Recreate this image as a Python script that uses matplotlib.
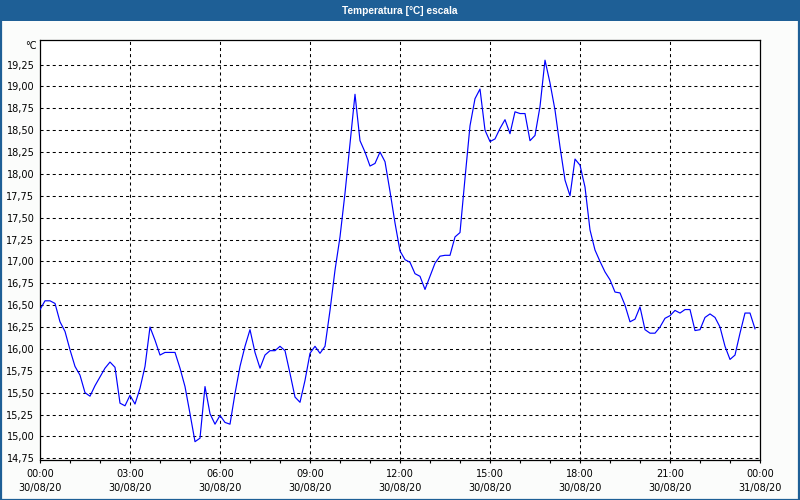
import matplotlib
matplotlib.use("Agg")
import matplotlib.pyplot as plt
from matplotlib.patches import Rectangle
from matplotlib.ticker import MultipleLocator, FixedLocator
import numpy as np

plt.rcParams['font.family'] = ['DejaVu Sans']
plt.rcParams['lines.scale_dashes'] = False

title = "Temperatura [°C] escala"
unit_label = "°C"

# 10-minute samples from 00:00 to 23:50 on 30/08/20
sample_minutes = 10
temperature = [
    16.45, 16.55, 16.55, 16.52, 16.31, 16.20, 15.99, 15.80, 15.70, 15.50,
    15.46, 15.58, 15.68, 15.78, 15.85, 15.79, 15.38, 15.35, 15.47, 15.37,
    15.55, 15.80, 16.25, 16.10, 15.93, 15.96, 15.96, 15.96, 15.78, 15.57,
    15.26, 14.94, 14.98, 15.57, 15.26, 15.14, 15.24, 15.16, 15.14, 15.49,
    15.80, 16.03, 16.22, 15.96, 15.78, 15.93, 15.98, 15.98, 16.03, 15.98,
    15.72, 15.45, 15.39, 15.64, 15.95, 16.03, 15.95, 16.03, 16.44, 16.90,
    17.28, 17.78, 18.35, 18.91, 18.38, 18.25, 18.09, 18.12, 18.25, 18.14,
    17.80, 17.44, 17.12, 17.02, 16.99, 16.86, 16.83, 16.68, 16.83, 16.98,
    17.06, 17.07, 17.07, 17.28, 17.33, 17.95, 18.55, 18.86, 18.97, 18.50,
    18.37, 18.40, 18.52, 18.62, 18.46, 18.71, 18.69, 18.69, 18.38, 18.44,
    18.77, 19.30, 19.04, 18.73, 18.31, 17.93, 17.75, 18.17, 18.10, 17.85,
    17.36, 17.13, 17.00, 16.88, 16.79, 16.65, 16.64, 16.50, 16.31, 16.34,
    16.48, 16.22, 16.18, 16.18, 16.25, 16.35, 16.38, 16.44, 16.41, 16.45,
    16.45, 16.21, 16.22, 16.36, 16.40, 16.36, 16.25, 16.03, 15.88, 15.93,
    16.18, 16.41, 16.41, 16.23,
]

x_tick_hours = [0, 3, 6, 9, 12, 15, 18, 21, 24]
x_tick_labels = [
    "00:00\n30/08/20", "03:00\n30/08/20", "06:00\n30/08/20", "09:00\n30/08/20",
    "12:00\n30/08/20", "15:00\n30/08/20", "18:00\n30/08/20", "21:00\n30/08/20",
    "00:00\n31/08/20",
]
y_ticks = [14.75, 15.00, 15.25, 15.50, 15.75, 16.00, 16.25, 16.50, 16.75,
           17.00, 17.25, 17.50, 17.75, 18.00, 18.25, 18.50, 18.75, 19.00, 19.25]

hours = np.arange(len(temperature)) * sample_minutes / 60.0

W, H = 800, 500
fig = plt.figure(figsize=(8, 5), dpi=100)
fig.patch.set_facecolor('#fbfcfb')

bar_color = '#1e5f96'
# title bar
fig.patches.append(Rectangle((0, 1 - 21 / H), 1, 21 / H, transform=fig.transFigure,
                             facecolor=bar_color, edgecolor='none', zorder=0))
# window border
fig.patches.append(Rectangle((0.5 / W, 0.5 / H), 1 - 1.5 / W, 1 - 1.5 / H,
                             transform=fig.transFigure, facecolor='none',
                             edgecolor=bar_color, linewidth=1.6, zorder=1))
fig.text(400 / W, 1 - 10.5 / H, title, color='white', fontweight='bold',
         fontsize=7.3, ha='center', va='center',
         family=['Liberation Sans', 'DejaVu Sans'])

ax = fig.add_axes([40 / W, 1 - 460 / H, 720 / W, 420 / H])
ax.set_facecolor('white')
ax.plot(hours, temperature, color='#0000ff', linewidth=0.85, zorder=3)

ax.set_xlim(0, 24)
ax.set_ylim(14.7306, 19.5306)

ax.xaxis.set_major_locator(FixedLocator(x_tick_hours))
ax.set_xticklabels(x_tick_labels)
ax.xaxis.set_minor_locator(MultipleLocator(1))
ax.set_yticks(y_ticks)
ax.set_yticklabels([f"{v:.2f}".replace('.', ',') for v in y_ticks])

ax.tick_params(axis='x', which='both', direction='out', length=2.4, width=0.8,
               color='black', labelsize=7, pad=4)
ax.tick_params(axis='y', which='both', length=0, labelsize=7, pad=4)
for lab in ax.get_xticklabels():
    lab.set_linespacing(1.55)

for s in ax.spines.values():
    s.set_color('black')
    s.set_linewidth(0.9)

dash = (0, (2.2, 2.2))
for hv in x_tick_hours[1:-1]:
    ax.axvline(hv, color='black', linewidth=0.75, linestyle=dash, zorder=1)
for yv in y_ticks:
    ax.axhline(yv, xmin=0, xmax=1, color='black', linewidth=0.75, linestyle=dash, zorder=1)

fig.text(37 / W, 1 - 46 / H, unit_label, fontsize=7, ha='right', va='center')

fig.savefig('out.png', dpi=100, facecolor=fig.get_facecolor())
